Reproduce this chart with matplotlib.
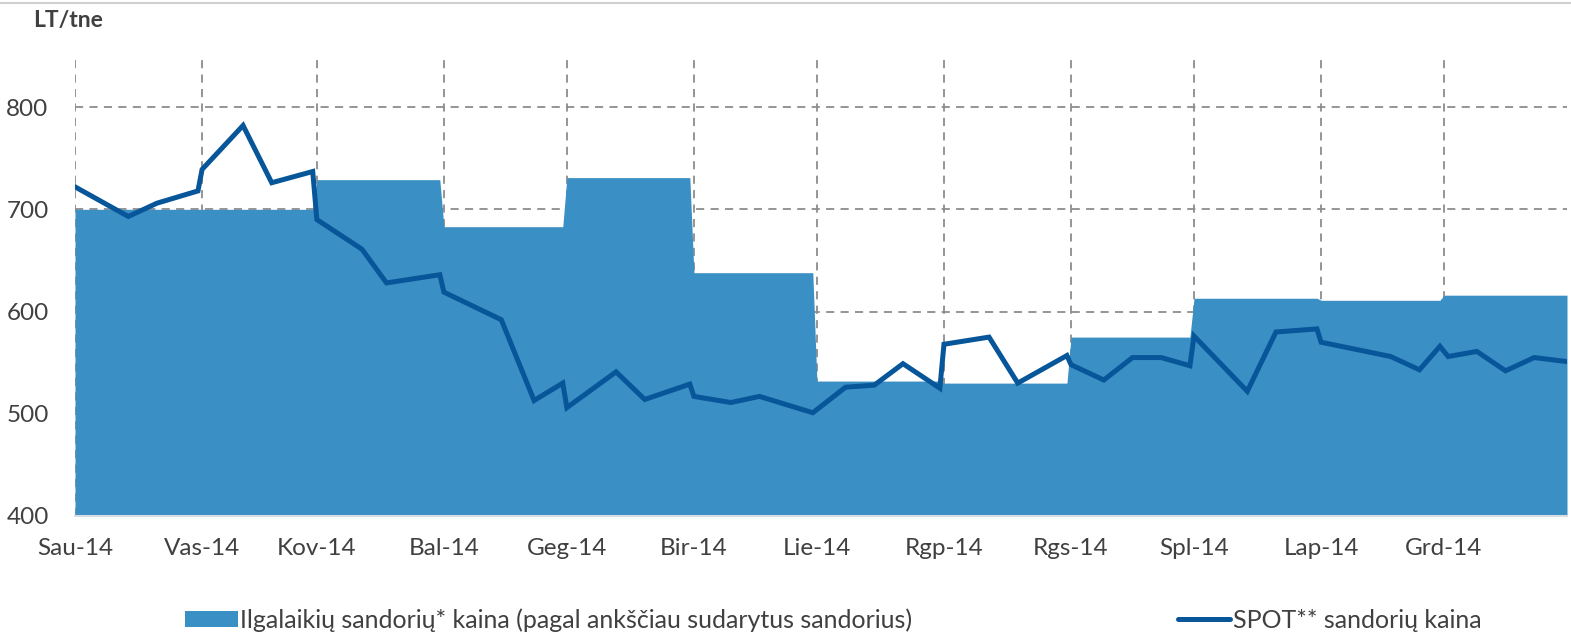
import matplotlib
matplotlib.use("Agg")
import matplotlib.pyplot as plt
import matplotlib.dates as mdates
from matplotlib.lines import Line2D
from matplotlib.patches import Patch
import numpy as np
import datetime as dt

# ---- data ----
month_labels = ["Sau-14", "Vas-14", "Kov-14", "Bal-14", "Geg-14", "Bir-14",
                "Lie-14", "Rgp-14", "Rgs-14", "Spl-14", "Lap-14", "Grd-14"]
long_term_price = [700, 700, 729, 683, 731, 638, 532, 530, 575, 613, 611, 616]

spot_dates = ["2014-01-01", "2014-01-14", "2014-01-21", "2014-01-31", "2014-02-01",
              "2014-02-11", "2014-02-18", "2014-02-28", "2014-03-01", "2014-03-12",
              "2014-03-18", "2014-03-31", "2014-04-01", "2014-04-15", "2014-04-23",
              "2014-04-30", "2014-05-01", "2014-05-13", "2014-05-20", "2014-05-31",
              "2014-06-01", "2014-06-10", "2014-06-17", "2014-06-30", "2014-07-08",
              "2014-07-15", "2014-07-22", "2014-07-31", "2014-08-01", "2014-08-12",
              "2014-08-19", "2014-08-31", "2014-09-01", "2014-09-09", "2014-09-16",
              "2014-09-23", "2014-09-30", "2014-10-01", "2014-10-14", "2014-10-21",
              "2014-10-31", "2014-11-01", "2014-11-18", "2014-11-25", "2014-11-30",
              "2014-12-02", "2014-12-09", "2014-12-16", "2014-12-23", "2014-12-31"]
spot_price = [722, 693, 706, 718, 739, 782, 726, 737, 690, 661,
              628, 636, 619, 592, 513, 530, 506, 541, 514, 529,
              517, 511, 517, 501, 526, 528, 549, 525, 568, 575,
              530, 557, 548, 533, 555, 555, 547, 576, 522, 580,
              583, 570, 556, 543, 566, 556, 561, 542, 555, 551]

year = 2014
area_color = "#3A8FC4"
line_color = "#07569A"
text_color = "#404040"
grid_color = "#8C8C8C"

plt.rcParams['font.family'] = ['Lato', 'DejaVu Sans']

W, H = 1571, 636
fig = plt.figure(figsize=(W / 100, H / 100), dpi=100)
ax = fig.add_axes([75 / W, (H - 516) / H, (1567 - 75) / W, (516 - 57) / H])

# build step area: value at first and last day of each month
area_x, area_y = [], []
for m, v in enumerate(long_term_price, start=1):
    start = dt.date(year, m, 1)
    end = (dt.date(year, m + 1, 1) if m < 12 else dt.date(year + 1, 1, 1)) - dt.timedelta(days=1)
    area_x += [start, end]
    area_y += [v, v]
area_xn = mdates.date2num(area_x)
ax.fill_between(area_xn, 400, area_y, color=area_color, linewidth=0, zorder=2,
                label="Ilgalaikių sandorių* kaina (pagal ankščiau sudarytus sandorius)")

spot_xn = mdates.date2num([dt.date.fromisoformat(d) for d in spot_dates])
ax.plot(spot_xn, spot_price, color=line_color, linewidth=3.6, zorder=3,
        solid_joinstyle="miter", label="SPOT** sandorių kaina")

month_starts = mdates.date2num([dt.date(year, m, 1) for m in range(1, 13)])
ax.set_xlim(mdates.date2num(dt.date(year, 1, 1)), mdates.date2num(dt.date(year, 12, 31)))
ax.set_ylim(400, 849)
ax.set_xticks(month_starts)
ax.set_xticklabels(month_labels)
ax.set_yticks([400, 500, 600, 700, 800])

ax.grid(True, color=grid_color, linestyle=(0, (4.5, 3.5)), linewidth=1.3, zorder=1)
ax.set_axisbelow(True)
for s in ["top", "right", "left"]:
    ax.spines[s].set_visible(False)
ax.spines["bottom"].set_color("#D6DDE5")
ax.spines["bottom"].set_linewidth(1.5)
ax.spines["bottom"].set_zorder(4)

ax.tick_params(axis="both", length=0, labelsize=17.5, labelcolor=text_color)
ax.tick_params(axis="x", pad=16)
ax.tick_params(axis="y", pad=19)

fig.text(33 / W, 1 - 20 / H, "LT/tne", fontsize=16.5, fontweight="bold",
         color=text_color, va="center", ha="left")

handles = [Patch(facecolor=area_color, edgecolor="none"),
           Line2D([], [], color=line_color, linewidth=3.6, solid_capstyle="round")]
labels = ["Ilgalaikių sandorių* kaina (pagal ankščiau sudarytus sandorius)",
          "SPOT** sandorių kaina"]
fig.legend(handles, labels, loc="center left", bbox_to_anchor=(185 / W, 1 - 620 / H),
           ncol=2, frameon=False, fontsize=18, labelcolor=text_color,
           handlelength=2.1, handleheight=0.65, handletextpad=0.12,
           columnspacing=10.6, borderpad=0, borderaxespad=0)

fig.add_artist(Line2D([0, 1], [1 - 3 / H, 1 - 3 / H], color="#D0D0D0", linewidth=1.5,
                      transform=fig.transFigure))

fig.savefig("out.png", dpi=100)
